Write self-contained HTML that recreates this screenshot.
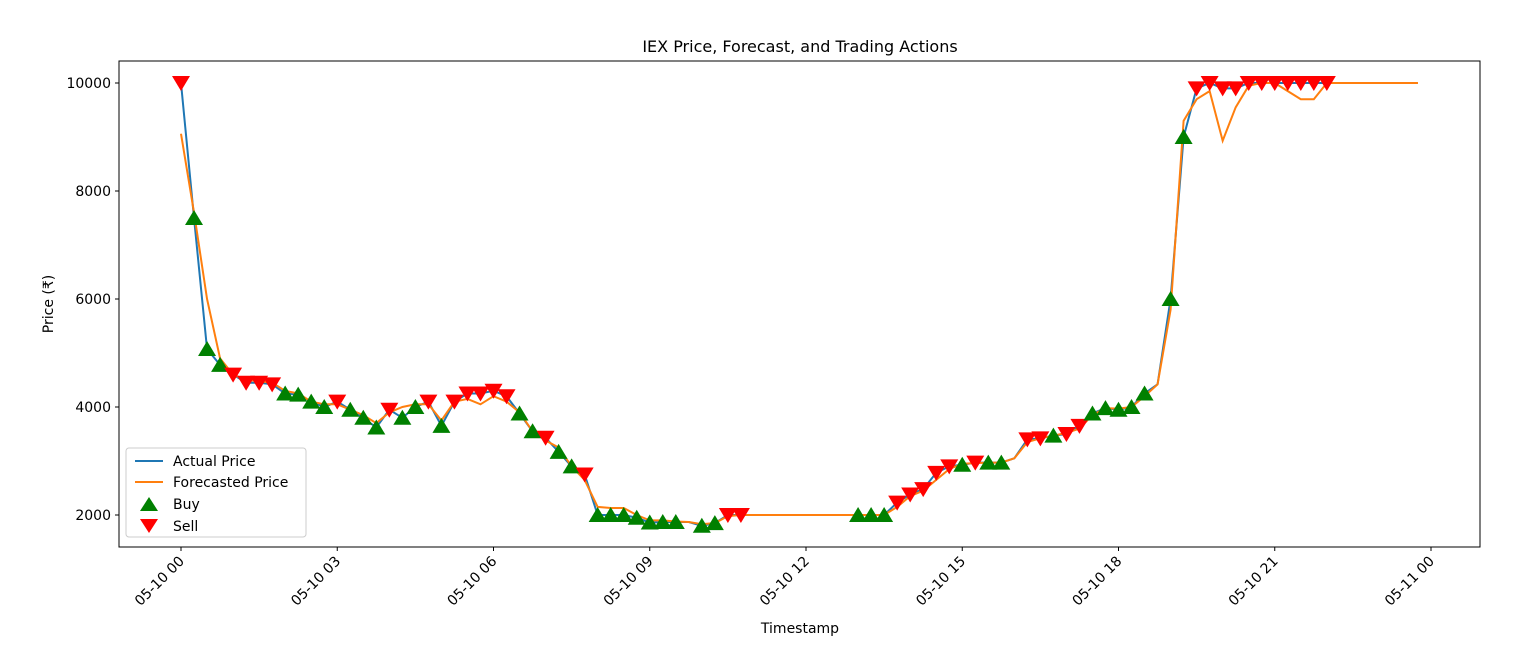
<!DOCTYPE html>
<html><head><meta charset="utf-8"><style>
body{margin:0;background:#fff;font-family:"Liberation Sans","DejaVu Sans",sans-serif;}
svg text{font-family:"DejaVu Sans","Liberation Sans",sans-serif;fill:#000;}
</style></head><body>
<svg id="chart" width="1527" height="656">
<text x="800" y="52" font-size="16" text-anchor="middle">IEX Price, Forecast, and Trading Actions</text>
<rect x="119" y="61" width="1361" height="486" fill="none" stroke="#000" stroke-width="1"/>
<g id="axes"></g>
<g id="series"></g>
<text x="800" y="633" font-size="14" text-anchor="middle">Timestamp</text>
<text x="53" y="304" font-size="14" text-anchor="middle" transform="rotate(-90 53 304)">Price (₹)</text>
<g>
<rect x="126" y="448" width="180" height="89" fill="#fff" fill-opacity="0.8" stroke="#ccc" rx="3"/>
<line x1="135" y1="461" x2="163" y2="461" stroke="#1f77b4" stroke-width="2"/>
<text x="173" y="466" font-size="14">Actual Price</text>
<line x1="135" y1="482" x2="163" y2="482" stroke="#ff7f0e" stroke-width="2"/>
<text x="173" y="487" font-size="14">Forecasted Price</text>
<polygon points="149,497 140,511 158,511" fill="green"/>
<text x="173" y="509" font-size="14">Buy</text>
<polygon points="140,519 158,519 149,533" fill="red"/>
<text x="173" y="531" font-size="14">Sell</text>
</g>
</svg>
<script>
const actual=[10000,7500,5074,4780,4600,4450,4450,4420,4250,4230,4100,4000,4100,3950,3800,3620,3950,3800,4000,4100,3650,4100,4250,4250,4300,4200,3880,3550,3430,3170,2900,2750,2000,2000,2000,1950,1860,1870,1870,1870,1800,1850,2000,2000,2000,2000,2000,2000,2000,2000,2000,2000,2000,2000,2000,2230,2380,2480,2780,2900,2930,2970,2970,2970,3050,3400,3420,3470,3500,3650,3880,3980,3950,4000,4250,4420,6000,9000,9900,10000,9900,9900,10000,10000,10000,10000,10000,10000,10000];
const forecast=[9060,7600,6000,4900,4600,4500,4480,4450,4300,4250,4100,4050,4050,3950,3850,3700,3900,4000,4050,4050,3750,4100,4150,4050,4200,4100,3900,3550,3380,3250,2900,2650,2150,2130,2130,2000,1900,1900,1880,1870,1830,1850,1980,2000,2000,2000,2000,2000,2000,2000,2000,2000,2000,2000,2000,2150,2350,2450,2650,2850,2950,2960,2970,2970,3050,3350,3420,3470,3520,3600,3850,3980,3970,4000,4200,4420,5800,9300,9700,9850,8930,9550,9950,10000,10000,9850,9700,9700,10000,10000,10000,10000,10000,10000,10000,10000];
const signals="SBBBSSSSBBBBSBBBSBBSBSSSSSBBSBBSBBBBBBBHBBSSHHHHHHHHBBBSSSSSBSBBHSSBSSBBBBBHBBSSSSSSSSSSS";
const xTicks=["05-10 00","05-10 03","05-10 06","05-10 09","05-10 12","05-10 15","05-10 18","05-10 21","05-11 00"];
const yTicks=[2000,4000,6000,8000,10000];
const NS="http://www.w3.org/2000/svg";
const X=i=>181+i*(1250/96);
const Y=v=>83+(10000-v)*0.054;
function mk(tag,attrs,parent){const e=document.createElementNS(NS,tag);for(const k in attrs)e.setAttribute(k,attrs[k]);parent.appendChild(e);return e;}
const ax=document.getElementById('axes'),sr=document.getElementById('series');
yTicks.forEach(v=>{
  mk('line',{x1:115,x2:119,y1:Y(v),y2:Y(v),stroke:'#000'},ax);
  const t=mk('text',{x:111,y:Y(v)+5,'font-size':14,'text-anchor':'end'},ax);t.textContent=v;
  
  
});
xTicks.forEach((s,k)=>{
  const x=X(k*12);
  mk('line',{x1:x,x2:x,y1:547,y2:551,stroke:'#000'},ax);
  const t=mk('text',{x:x+4,y:562,'font-size':14,'text-anchor':'end',transform:`rotate(-45 ${x+4} 562)`},ax);t.textContent=s;
  
  
});
const la=mk('polyline',{points:actual.map((v,i)=>X(i)+','+Y(v)).join(' '),fill:'none',stroke:'#1f77b4','stroke-width':2},sr);


const lf=mk('polyline',{points:forecast.map((v,i)=>X(i)+','+Y(v)).join(' '),fill:'none',stroke:'#ff7f0e','stroke-width':2},sr);


for(let i=0;i<signals.length;i++){
  const c=signals[i];if(c==='H')continue;
  const x=X(i),y=Y(actual[i]);let p;
  if(c==='B'){p=mk('polygon',{points:`${x},${y-8} ${x-9},${y+7} ${x+9},${y+7}`,fill:'green'},sr);
    }
  else{p=mk('polygon',{points:`${x-9},${y-7} ${x+9},${y-7} ${x},${y+8}`,fill:'red'},sr);
    }
  
}
</script>
</body></html>
